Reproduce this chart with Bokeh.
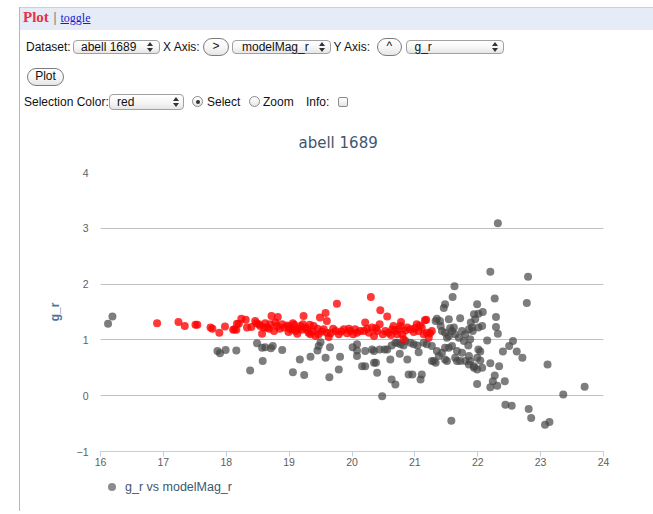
from bokeh.plotting import figure
from bokeh.models import Div, Range1d, SingleIntervalTicker
from bokeh.layouts import column
from bokeh.embed import file_html
from bokeh.resources import INLINE

# ---------------- data ----------------
dataset_name = "abell 1689"
x_field = "modelMag_r"
y_field = "g_r"
selection_color = "red"
legend_label = "g_r vs modelMag_r"

x_ticks = [16, 17, 18, 19, 20, 21, 22, 23, 24]
y_ticks = [-1, 0, 1, 2, 3, 4]

# selected (red) points
red_x = [16.90, 17.24, 17.34, 17.51, 17.54, 17.75, 17.78, 17.89, 17.98,
         18.11, 18.13, 18.16, 18.17, 18.20, 18.24, 18.31, 18.33, 18.40, 18.46, 18.48, 18.52, 18.54, 18.57, 18.60,
         18.62, 18.65, 18.68, 18.70, 18.72, 18.76, 18.78, 18.81, 18.82, 18.85, 18.89, 18.92, 18.97, 18.99,
         19.00, 19.02, 19.05, 19.06, 19.08, 19.10, 19.13, 19.15, 19.18, 19.20, 19.22, 19.23, 19.26, 19.28,
         19.31, 19.33, 19.34, 19.37, 19.39, 19.42, 19.45, 19.47, 19.49, 19.52, 19.55, 19.58, 19.60, 19.60,
         19.63, 19.66, 19.70, 19.74, 19.76, 19.79, 19.83, 19.87, 19.92, 19.95, 19.97,
         20.02, 20.05, 20.08, 20.13, 20.19, 20.21, 20.24, 20.27, 20.30, 20.32, 20.35, 20.38, 20.40, 20.44,
         20.45, 20.49, 20.53, 20.56, 20.58, 20.62, 20.64, 20.66, 20.69, 20.72, 20.74, 20.77, 20.78, 20.80,
         20.82, 20.85, 20.88, 20.93, 20.98,
         21.00, 21.03, 21.06, 21.08, 21.11, 21.14, 21.16, 21.18, 21.19, 21.22, 21.24, 21.27]
red_y = [1.30, 1.32, 1.25, 1.27, 1.27, 1.22, 1.20, 1.13, 1.24,
         1.18, 1.19, 1.18, 1.29, 1.29, 1.38, 1.36, 1.22, 1.23, 1.34, 1.30, 1.28, 1.25, 1.11, 1.22,
         1.30, 1.22, 1.20, 1.28, 1.43, 1.16, 1.31, 1.25, 1.41, 1.20, 1.28, 1.22, 1.26, 1.14,
         1.24, 1.19, 1.20, 1.30, 1.27, 1.16, 1.11, 1.20, 1.25, 1.18, 1.28, 1.43, 1.22, 1.18,
         1.13, 1.27, 1.10, 1.15, 1.25, 1.07, 1.20, 1.10, 1.40, 1.15, 1.19, 1.48, 1.13, 1.34,
         1.05, 1.12, 1.20, 1.16, 1.65, 1.10, 1.15, 1.19, 1.12, 1.20, 1.16,
         1.10, 1.19, 1.13, 1.16, 1.16, 1.31, 1.20, 1.13, 1.77, 1.22, 1.07, 1.21, 1.16, 1.28,
         1.53, 1.10, 1.16, 1.42, 1.13, 1.09, 1.19, 1.25, 1.16, 1.10, 1.19, 1.25, 1.32, 1.10,
         1.01, 1.17, 1.22, 1.19, 1.14,
         1.21, 1.28, 1.16, 1.26, 1.22, 1.10, 1.35, 1.36, 1.13, 1.04, 1.12, 1.16]

# unselected (gray) points
gray_x = [16.12, 16.19, 17.86, 17.90, 17.99, 18.16, 18.38, 18.49, 18.57, 18.58,
          18.62, 18.71, 18.74, 18.89, 19.06, 19.17, 19.24, 19.34, 19.45, 19.47,
          19.50, 19.58, 19.64, 19.65, 19.79, 19.81, 20.01, 20.08, 20.08, 20.08,
          20.16, 20.21, 20.21, 20.32, 20.35, 20.35, 20.38, 20.40, 20.44, 20.48,
          20.52, 20.56, 20.61, 20.63, 20.63, 20.69, 20.69, 20.72, 20.76, 20.77,
          20.82, 20.85, 20.88, 20.90, 20.93, 20.96, 20.98, 21.04, 21.06, 21.09,
          21.11, 21.14, 21.19, 21.27, 21.27, 21.30, 21.33, 21.35, 21.35, 21.33,
          21.38, 21.40, 21.41, 21.43, 21.43, 21.46, 21.48, 21.48, 21.48, 21.48,
          21.51, 21.51, 21.54, 21.54, 21.54, 21.56, 21.58, 21.59, 21.59, 21.60,
          21.62, 21.63, 21.64, 21.64, 21.67, 21.67, 21.70, 21.72, 21.72, 21.75,
          21.75, 21.78, 21.80, 21.80, 21.85, 21.86, 21.86, 21.86, 21.88, 21.88,
          21.89, 21.91, 21.92, 21.94, 21.94, 21.94, 21.96, 21.99, 21.99, 21.99,
          21.99, 22.01, 22.01, 22.01, 22.04, 22.04, 22.07, 22.07, 22.08, 22.15,
          22.20, 22.20, 22.20, 22.24, 22.27, 22.27, 22.29, 22.29, 22.31, 22.32,
          22.32, 22.34, 22.40, 22.43, 22.44, 22.50, 22.54, 22.56, 22.62, 22.71,
          22.78, 22.80, 22.81, 22.85, 23.07, 23.11, 23.14, 23.36, 23.70]
gray_y = [1.29, 1.42, 0.80, 0.76, 0.82, 0.81, 0.45, 0.94, 0.86, 0.62,
          0.87, 0.85, 0.89, 0.82, 0.42, 0.65, 0.37, 0.70, 0.81, 0.89,
          0.96, 0.68, 0.33, 0.87, 0.47, 0.70, 0.87, 0.81, 0.92, 0.71,
          0.53, 0.80, 0.53, 0.83, 0.80, 0.59, 0.59, 0.41, 0.83, -0.01,
          0.83, 0.83, 0.65, 0.29, 0.90, 0.20, 0.95, 0.95, 0.75, 0.92,
          0.90, 0.98, 0.65, 0.38, 0.95, 0.38, 0.92, 0.90, 0.78, 0.29,
          0.38, 0.95, 0.92, 0.89, 0.62, 0.62, 0.59, 0.80, 1.38, 1.34,
          0.71, 1.34, 1.25, 1.16, 0.77, 1.57, 1.64, 1.13, 0.65, 0.86,
          0.62, 1.04, 1.07, 0.86, 1.37, 1.21, -0.45, 1.16, 0.89, 1.77,
          1.22, 1.96, 1.10, 0.68, 0.80, 0.62, 1.04, 1.39, 0.62, 1.16,
          0.77, 0.98, 1.10, 0.62, 0.90, 1.19, 0.71, 0.56, 1.01, 0.62,
          1.31, 1.22, 1.16, 1.46, 0.53, 0.50, 1.37, 1.64, 0.47, 0.21,
          0.68, 1.22, 1.47, 0.83, 0.79, 0.63, 1.25, 0.50, 1.50, 0.99,
          2.22, 0.58, 0.15, 0.26, 1.74, 0.36, 1.41, 1.23, 0.18, 3.09,
          1.11, 0.53, 0.79, 0.26, -0.16, 0.89, -0.18, 0.98, 0.79, 0.68,
          1.66, 2.13, -0.24, -0.40, -0.52, 0.56, -0.47, 0.02, 0.16]

# ---------------- header (HTML controls) ----------------
SANS = "'Liberation Sans', Arial, sans-serif"
SERIF = "'Liberation Serif', 'Times New Roman', serif"
LINE = "#a3b9e0"
LX = 19            # x of the page frame's left border line
HEADER_H = 111
FIG_H = 370
LEG_H = 30


def text(x, cy, s, size=12, color="#111", family=SANS, extra=""):
    return (f'<div style="position:absolute;left:{x}px;top:{cy - 8}px;height:16px;'
            f'line-height:16px;font-size:{size}px;font-family:{family};color:{color};'
            f'white-space:nowrap;{extra}">{s}</div>')


def box(x0, y0, x1, y1, radius, border="#a0a0a0"):
    return (f'<div style="position:absolute;left:{x0}px;top:{y0}px;width:{x1 - x0}px;'
            f'height:{y1 - y0}px;box-sizing:border-box;border:1px solid {border};border-radius:{radius}px;'
            f'background:linear-gradient(#ffffff,#f7f7f7 50%,#e6e6e6);"></div>')


def arrows(cx, cy):
    up = (f'<div style="position:absolute;left:{cx - 3}px;top:{cy - 5}px;width:0;height:0;'
          f'border-left:3px solid transparent;border-right:3px solid transparent;border-bottom:4px solid #333"></div>')
    dn = (f'<div style="position:absolute;left:{cx - 3}px;top:{cy + 1}px;width:0;height:0;'
          f'border-left:3px solid transparent;border-right:3px solid transparent;border-top:4px solid #333"></div>')
    return up + dn


def select(x0, x1, y0, y1, label, tx, ax):
    cy = (y0 + y1) / 2
    return box(x0, y0, x1, y1, 4) + text(tx, cy, label) + arrows(ax, cy)


def button(x0, y0, x1, y1, label):
    return (box(x0, y0, x1, y1, (y1 - y0) / 2, border="#7c7c7c") +
            f'<div style="position:absolute;left:{x0}px;top:{y0}px;width:{x1 - x0}px;'
            f'height:{y1 - y0}px;display:flex;align-items:center;justify-content:center;'
            f'font-family:{SANS};font-size:12px;color:#111;white-space:nowrap">{label}</div>')


def radio(cx, cy, checked=False):
    s = (f'<div style="position:absolute;left:{cx - 5.5}px;top:{cy - 5.5}px;width:11px;height:11px;'
         f'box-sizing:border-box;border:1px solid #8a8a8a;border-radius:50%;'
         f'background:linear-gradient(#ffffff,#e6e6e6);"></div>')
    if checked:
        s += (f'<div style="position:absolute;left:{cx - 2}px;top:{cy - 2}px;width:4px;height:4px;'
              f'border-radius:50%;background:#333"></div>')
    return s


def checkbox(x0, y0, x1, y1):
    return (f'<div style="position:absolute;left:{x0}px;top:{y0}px;width:{x1 - x0}px;height:{y1 - y0}px;'
            f'box-sizing:border-box;border:1px solid #8a8a8a;border-radius:2px;'
            f'background:linear-gradient(#ffffff,#e6e6e6);"></div>')


parts = []
parts.append(f'<div style="position:absolute;left:{LX + 1}px;top:7px;width:{653 - LX - 1}px;height:23px;'
             'background:#e5ebf7;border-top:1px solid #c3d0e8;box-sizing:border-box"></div>')
parts.append(f'<div style="position:absolute;left:{LX}px;top:7px;width:1px;height:{HEADER_H}px;background:{LINE}"></div>')
parts.append(text(23, 17, "Plot", size=15, color="#e8304a", family=SERIF, extra="font-weight:bold;"))
parts.append(text(53.5, 17, "|", size=15, color="#555", family=SERIF))
parts.append(text(60.5, 17.5, "toggle", size=12, color="#1a1ad0", family=SERIF,
                  extra="text-decoration:underline;"))
# row 1
parts.append(text(26, 47, "Dataset:"))
parts.append(select(73, 160, 40, 54, dataset_name, 81, 149.5))
parts.append(text(163, 47, "X Axis:"))
parts.append(button(203, 38, 229, 56, "&gt;"))
parts.append(select(232, 331, 40, 54, x_field, 242, 321.5))
parts.append(text(333.5, 47, "Y Axis:"))
parts.append(button(376.5, 38, 402, 56, "^"))
parts.append(select(406, 504, 40, 54, y_field, 414.5, 495))
# row 2
parts.append(button(27, 68, 64, 86, "Plot"))
# row 3
parts.append(text(24, 101.5, "Selection Color:"))
parts.append(select(109, 184, 93.5, 110, selection_color, 117, 175.5))
parts.append(radio(197.5, 101.5, checked=True))
parts.append(text(207, 101.5, "Select"))
parts.append(radio(254.5, 101.5))
parts.append(text(263, 101.5, "Zoom"))
parts.append(text(306, 101.5, "Info:"))
parts.append(checkbox(338, 97, 348, 107))

header = Div(text=f'<div style="position:relative;width:653px;height:{HEADER_H}px;overflow:hidden">' +
             "".join(parts) + '</div>', width=653, height=HEADER_H, margin=0)

# legend strip below the chart
leg_parts = [
    f'<div style="position:absolute;left:{LX}px;top:0;width:1px;height:{LEG_H}px;background:{LINE}"></div>',
    '<div style="position:absolute;left:108px;top:2px;width:8px;height:8px;border-radius:50%;background:#8c8c8c"></div>',
    f'<div style="position:absolute;left:125px;top:-2px;height:16px;line-height:16px;font-size:12.5px;'
    f'font-family:{SANS};color:#3E576F;white-space:nowrap">{legend_label}</div>',
]
legend_div = Div(text=f'<div style="position:relative;width:653px;height:{LEG_H}px;overflow:hidden">' +
                 "".join(leg_parts) + '</div>', width=653, height=LEG_H, margin=0)

# ---------------- chart ----------------
p = figure(width=653, height=FIG_H, output_backend="svg", toolbar_location=None,
           x_range=Range1d(x_ticks[0], x_ticks[-1]), y_range=Range1d(y_ticks[0], y_ticks[-1]),
           min_border_left=100, min_border_right=50, min_border_top=61, min_border_bottom=30,
           title=dataset_name)
p.outline_line_color = None
p.background_fill_color = "white"
p.border_fill_alpha = 0
p.styles = {"background": f"linear-gradient(to right, white {LX}px, {LINE} {LX}px, {LINE} {LX + 1}px, white {LX + 1}px)"}

p.title.align = "left"
p.title.offset = 198
p.title.standoff = 41
p.title.text_font = "DejaVu Sans"
p.title.text_font_size = "15px"
p.title.text_font_style = "normal"
p.title.text_color = "#3E576F"

p.xgrid.grid_line_color = None
p.ygrid.grid_line_color = "#C0C0C0"
p.ygrid.grid_line_width = 1

p.xaxis.ticker = SingleIntervalTicker(interval=1)
p.yaxis.ticker = SingleIntervalTicker(interval=1)
p.xaxis.minor_tick_line_color = None
p.yaxis.minor_tick_line_color = None

p.xaxis.axis_line_color = "#C0D0E0"
p.xaxis.major_tick_line_color = "#C0D0E0"
p.xaxis.major_tick_out = 5
p.xaxis.major_tick_in = 0
p.xaxis.major_label_standoff = 1
p.xaxis.major_label_text_font = "Liberation Sans"
p.xaxis.major_label_text_font_size = "10.5px"
p.xaxis.major_label_text_color = "#606060"

p.yaxis.axis_line_color = None
p.yaxis.major_tick_line_color = None
p.yaxis.major_tick_out = 0
p.yaxis.major_tick_in = 0
p.yaxis.major_label_standoff = 8
p.yaxis.major_label_text_font = "Liberation Sans"
p.yaxis.major_label_text_font_size = "10.5px"
p.yaxis.major_label_text_color = "#606060"
p.yaxis.axis_label = y_field
p.yaxis.axis_label_text_font = "Liberation Sans"
p.yaxis.axis_label_text_font_size = "12px"
p.yaxis.axis_label_text_font_style = "bold"
p.yaxis.axis_label_text_color = "#4D759E"
p.yaxis.axis_label_standoff = 12

g = p.scatter(gray_x, gray_y, size=8, fill_color="#464646", fill_alpha=0.7, line_color=None)
r = p.scatter(red_x, red_y, size=8, fill_color="#ff0000", fill_alpha=0.78, line_color=None)

layout = column(header, p, legend_div, spacing=0)

open("out.html", "w").write(file_html(layout, INLINE))
